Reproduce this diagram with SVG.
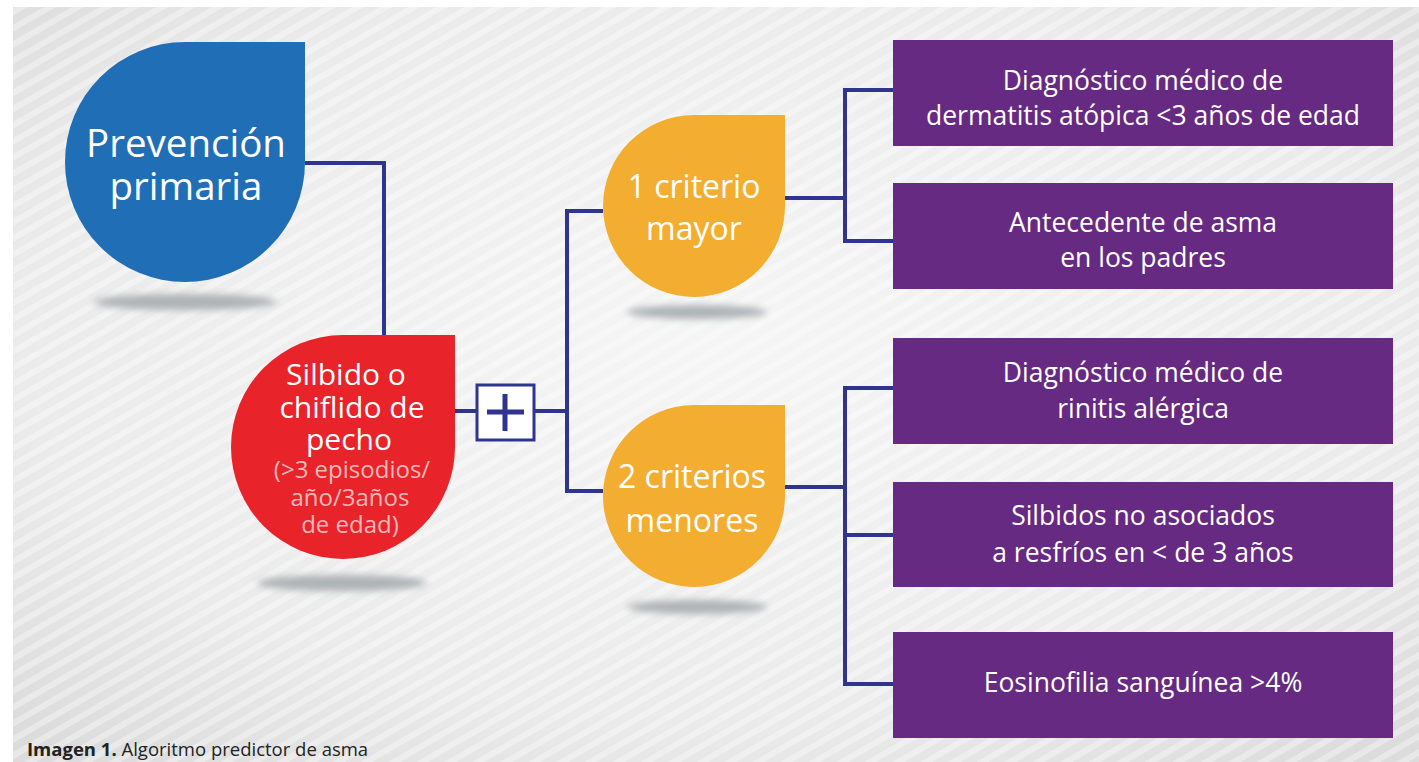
<svg xmlns="http://www.w3.org/2000/svg" width="1419" height="762" viewBox="0 0 1419 762">
<style>
.t{font-family:"Open Sans","Liberation Sans",sans-serif;fill:#ffffff;text-anchor:middle}
.big{font-size:38.5px}
.mid{font-size:30px}
.ora{font-size:32px}
.sub{font-size:24px;fill:#f6b9b9}
.box{font-size:26.5px}
.con{fill:none;stroke:#2e3490;stroke-width:4}
.shadow{fill:#aeb3b5;filter:url(#blur)}
.purple{fill:#662a82}
</style>
<defs>
<radialGradient id="bg" cx="0.5" cy="0.45" r="0.7">
<stop offset="0" stop-color="#f5f5f5"/>
<stop offset="0.7" stop-color="#ebebeb"/>
<stop offset="1" stop-color="#dcdcdc"/>
</radialGradient>
<pattern id="stripes" width="14" height="14" patternUnits="userSpaceOnUse" patternTransform="rotate(-30)">
<rect width="14" height="6" fill="#ffffff" opacity="0.35"/>
</pattern>
<filter id="blur" x="-20%" y="-100%" width="140%" height="300%"><feGaussianBlur stdDeviation="3.5"/></filter>
</defs>
<rect width="1419" height="762" fill="#ffffff"/>
<rect x="13" y="7" width="1406" height="755" fill="url(#bg)"/>
<rect x="13" y="7" width="1406" height="755" fill="url(#stripes)"/>

<g id="connectors">
<path class="con" d="M305 163 H384 V335"/>
<path class="con" d="M455 411 H476"/>
<path class="con" d="M535 411 H567"/>
<path class="con" d="M603 211 H567 V491 H603"/>
<path class="con" d="M785 198 H845"/>
<path class="con" d="M893 90 H845 V241 H893"/>
<path class="con" d="M785 487 H845"/>
<path class="con" d="M893 388 H845 V684 H893"/>
<path class="con" d="M845 535 H893"/>
</g>

<g id="n-prevencion">
<ellipse class="shadow" cx="185" cy="302" rx="92" ry="8"/>
<path d="M305 42 V162 A120 120 0 1 1 185 42 Z" fill="#1f6eb6"/>
<text class="t big" x="186" y="157">Prevención</text>
<text class="t big" x="186" y="200">primaria</text>
</g>

<g id="n-silbido">
<ellipse class="shadow" cx="342" cy="583" rx="85" ry="8"/>
<path d="M455 335 V447 A112 112 0 1 1 343 335 Z" fill="#e8232a"/>
<text class="t mid" x="346" y="385">Silbido o</text>
<text class="t mid" x="352" y="418">chiflido de</text>
<text class="t mid" x="349" y="450">pecho</text>
<text class="t sub" x="352" y="478">(&gt;3 episodios/</text>
<text class="t sub" x="350" y="506">año/3años</text>
<text class="t sub" x="350" y="533">de edad)</text>
</g>

<g id="n-plus">
<rect x="477" y="385" width="57" height="55" fill="#ffffff" stroke="#2e3490" stroke-width="3"/>
<path d="M505 394 V431 M487 412 H524" stroke="#2e3490" stroke-width="5" fill="none"/>
</g>

<g id="n-mayor">
<ellipse class="shadow" cx="697" cy="312" rx="70" ry="7"/>
<path d="M785 115 V205 A91 91 0 1 1 694 115 Z" fill="#f3ae31"/>
<text class="t ora" x="694" y="198">1 criterio</text>
<text class="t ora" x="694" y="240">mayor</text>
</g>

<g id="n-menores">
<ellipse class="shadow" cx="697" cy="607" rx="70" ry="7"/>
<path d="M785 405 V495 A91 91 0 1 1 694 405 Z" fill="#f3ae31"/>
<text class="t ora" x="692" y="488">2 criterios</text>
<text class="t ora" x="692" y="532">menores</text>
</g>

<g id="n-dermatitis">
<rect class="purple" x="893" y="40" width="500" height="106"/>
<text class="t box" x="1143" y="90">Diagnóstico médico de</text>
<text class="t box" x="1143" y="125">dermatitis atópica &lt;3 años de edad</text>
</g>

<g id="n-padres">
<rect class="purple" x="893" y="183" width="500" height="106"/>
<text class="t box" x="1143" y="232">Antecedente de asma</text>
<text class="t box" x="1143" y="267">en los padres</text>
</g>

<g id="n-rinitis">
<rect class="purple" x="893" y="338" width="500" height="106"/>
<text class="t box" x="1143" y="382">Diagnóstico médico de</text>
<text class="t box" x="1143" y="418">rinitis alérgica</text>
</g>

<g id="n-silbidos">
<rect class="purple" x="893" y="482" width="500" height="105"/>
<text class="t box" x="1143" y="525">Silbidos no asociados</text>
<text class="t box" x="1143" y="562">a resfríos en &lt; de 3 años</text>
</g>

<g id="n-eosinofilia">
<rect class="purple" x="893" y="632" width="500" height="106"/>
<text class="t box" x="1143" y="692">Eosinofilia sanguínea &gt;4%</text>
</g>

<text x="27" y="756" font-family="'Open Sans','Liberation Sans',sans-serif" font-size="18.5" fill="#222222"><tspan font-weight="bold">Imagen 1.</tspan> Algoritmo predictor de asma</text>
</svg>
